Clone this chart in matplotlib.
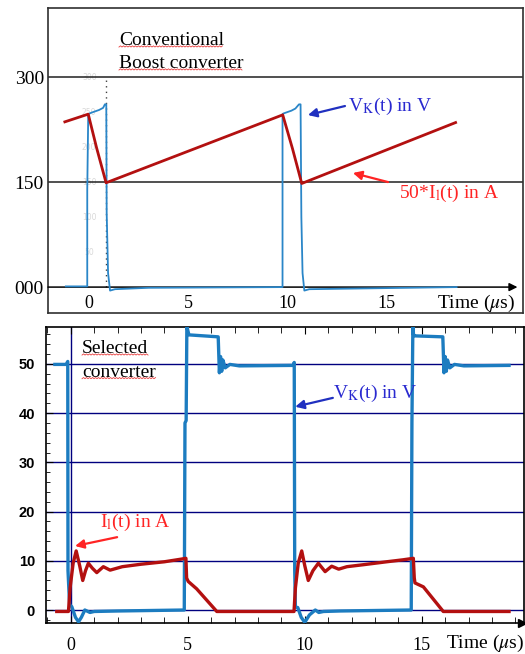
import numpy as np
import matplotlib.pyplot as plt
from matplotlib.lines import Line2D

plt.rcParams['mathtext.fontset'] = 'stix'

# ---------------- data ----------------
# conventional boost converter (top), time in us
topRedT = [-1.23, -0.05, 0.37, 0.85, 9.76, 10.25, 10.72, 18.48]
topRedV = [236, 247, 199, 149, 246, 198, 148, 235]          # 50*I_l(t)

topBlueT = [-1.18, -0.1, -0.1, -0.05, 0.1, 0.3, 0.5, 0.7, 0.79, 0.86, 0.88, 0.95,
            1.05, 1.3, 3.0, 9.75, 9.75, 9.8, 10.0, 10.2, 10.4, 10.58, 10.66, 10.7,
            10.76, 10.85, 11.1, 18.53]
topBlueV = [1, 1, 139, 247, 249, 251, 253, 256, 261, 261, 106, 20,
            -5, -3, -1, 0, 247, 248, 250, 252, 255, 261, 261, 100,
            20, -5, -3, 0]                                   # V_K(t)

topYTicks = [0, 150, 300]
topYLabels = ['000', '150', '300']
topXTicks = [0, 5, 10, 15]
scopeTicks = [50, 100, 150, 200, 250, 300]

# selected converter (bottom)
botBlueT = [-0.68, -0.2, -0.13, -0.12, -0.05, 0.04, 0.2, 0.33, 0.45, 0.6, 0.82, 1.0,
            2.0, 4.85, 4.88, 4.93, 4.96, 5.05, 6.3, 6.35, 6.4, 6.45, 6.5, 6.6,
            6.8, 7.2, 9.5, 9.55, 9.57, 9.6, 9.7, 9.85, 10.0, 10.2, 10.45, 10.6,
            10.8, 11.5, 14.55, 14.58, 14.62, 14.65, 14.7, 15.9, 15.95, 16.0, 16.05, 16.1,
            16.2, 16.4, 16.8, 18.73]
botBlueV = [49.9, 49.9, 50.5, 8, 1, 0.7, -1.5, -2.4, -1.5, 0, -0.5, -0.3,
            -0.2, 0, 38, 38.5, 57.5, 55.9, 55.5, 48.2, 51.5, 48.5, 50.8, 49.2,
            49.9, 49.6, 49.7, 50.3, 8, 0.6, 0.5, -1.5, -2.5, -1.0, 0, -0.5,
            -0.3, -0.2, 0, 38, 57.5, 55.9, 55.7, 55.5, 48.2, 51.5, 48.5, 50.8,
            49.2, 49.9, 49.6, 49.7]

botRedT = [-0.6, -0.1, -0.03, 0.1, 0.23, 0.38, 0.51, 0.63, 0.75, 0.92, 1.11, 1.39,
           1.68, 2.2, 3.0, 4.0, 4.67, 4.92, 4.95, 5.02, 5.38, 6.24, 9.54, 9.6,
           9.72, 9.87, 10.0, 10.15, 10.35, 10.58, 10.87, 11.15, 11.45, 11.8, 12.5, 13.5,
           14.2, 14.64, 14.68, 14.71, 15.07, 15.92, 18.73]
botRedV = [-0.3, -0.3, 4.5, 9.5, 12.0, 9.0, 6.0, 8.0, 9.5, 8.5, 7.6, 8.8,
           8.1, 8.8, 9.3, 9.8, 10.3, 10.5, 6.5, 5.8, 4.3, -0.3, -0.3, 4.5,
           9.5, 12.0, 9.0, 6.0, 8.0, 9.5, 7.8, 8.9, 8.3, 8.8, 9.2, 9.8,
           10.2, 10.5, 6.5, 5.5, 4.7, -0.3, -0.3]

botYTicks = [0, 10, 20, 30, 40, 50]
botXTicks = [0, 5, 10, 15]

# ---------------- style ----------------
serif = 'Liberation Serif'
blueTop = '#2a86c8'
blueBot = '#1c7cc0'
redLine = '#b31010'
navy = '#00007f'
textBlue = '#2a2ad0'
textRed = '#ff2424'


def squiggle(fig, txt, renderer):
    bb = txt.get_window_extent(renderer)
    xs = np.arange(bb.x0, bb.x1, 1.5)
    ys = bb.y0 + 2.0 + 1.2 * (np.arange(len(xs)) % 2)
    pts = fig.transFigure.inverted().transform(np.column_stack([xs, ys]))
    fig.add_artist(Line2D(pts[:, 0], pts[:, 1], color = '#e84040', lw = 0.6))


def arrow(ax, head, tail, color):
    ax.annotate('', xy = head, xytext = tail,
                arrowprops = dict(arrowstyle = '-|>', color = color, lw = 1.6,
                                  mutation_scale = 13, shrinkA = 0, shrinkB = 0))


fig = plt.figure(figsize = (5.25, 6.54), dpi = 100)

# ---------------- top panel ----------------
ax1 = fig.add_axes([48 / 525, 1 - 313 / 654, 475 / 525, 305 / 654])
ax1.set_xlim(-2.08, 21.88)
ax1.set_ylim(-37, 398.6)
for s in ax1.spines.values():
    s.set_color('#303030')
    s.set_linewidth(1.2)
ax1.set_xticks([])
ax1.set_yticks(topYTicks)
ax1.set_yticklabels(topYLabels, family = serif, fontsize = 14)
ax1.tick_params(axis = 'y', length = 0, pad = 3)

for v in topYTicks[1:]:
    ax1.axhline(v, color = '#202020', lw = 1.1, zorder = 1)
ax1.annotate('', xy = (21.6, 0), xytext = (-2.08, 0),
             arrowprops = dict(arrowstyle = '-|>', color = 'black', lw = 1.1,
                               mutation_scale = 12, shrinkA = 0, shrinkB = 0))

# faint oscilloscope scale
for v in scopeTicks:
    ax1.text(0, v, str(v), color = '#d8d8d8', fontsize = 5.5, ha = 'center', va = 'center', zorder = 0)
ax1.vlines(0.85, 0, 300, colors = '#404040', linestyles = (0, (1, 3)), lw = 1.0, zorder = 1)

ax1.plot(topBlueT, topBlueV, color = blueTop, lw = 1.3, zorder = 3)
ax1.plot(topRedT, topRedV, color = redLine, lw = 2.0, zorder = 4)

for t in topXTicks:
    ax1.text(t, -23, str(t), family = serif, fontsize = 13, ha = 'center', va = 'center')
ax1.text(21.5, -23, 'Time ($\\mu$s)', family = serif, fontsize = 14, ha = 'right', va = 'center')

conv1 = ax1.text(1.5, 345.7, 'Conventional', family = serif, fontsize = 14, va = 'baseline')
conv2 = ax1.text(1.5, 312.9, 'Boost converter', family = serif, fontsize = 14, va = 'baseline')

ax1.text(13.05, 258, 'V$_\\mathrm{K}$(t) in V', family = serif, fontsize = 14,
         color = textBlue, ha = 'left', va = 'center')
arrow(ax1, (11.03, 245.7), (12.9, 258.6), '#2030c0')
ax1.text(15.6, 134, '50*I$_\\mathrm{l}$(t) in A', family = serif, fontsize = 14,
         color = textRed, ha = 'left', va = 'center')
arrow(ax1, (13.3, 163), (15.07, 150), textRed)

# ---------------- bottom panel ----------------
ax2 = fig.add_axes([46 / 525, 1 - 623 / 654, 478 / 525, 296 / 654])
ax2.set_xlim(-1.06, 19.37)
ax2.set_ylim(-2.64, 57.5)
for s in ax2.spines.values():
    s.set_color('black')
    s.set_linewidth(1.2)
ax2.set_yticks(botYTicks)
ax2.set_yticklabels([str(v) for v in botYTicks], family = 'Liberation Sans',
                    fontweight = 'bold', fontsize = 10.5)
ax2.set_yticks(np.arange(-2, 58, 2), minor = True)
ax2.set_xticks(botXTicks)
ax2.set_xticklabels([str(v) for v in botXTicks], family = serif, fontsize = 13)
ax2.set_xticks(np.arange(-1, 20, 1), minor = True)
ax2.tick_params(axis = 'both', which = 'both', direction = 'in', top = True, right = False)
ax2.tick_params(axis = 'y', which = 'major', length = 5, pad = 8)
ax2.tick_params(axis = 'y', which = 'minor', length = 3)
ax2.tick_params(axis = 'x', which = 'major', length = 5, pad = 10)
ax2.tick_params(axis = 'x', which = 'minor', length = 4)
ax2.plot(0.995, 0, '>', color = 'black', ms = 6, transform = ax2.transAxes, clip_on = False)

for v in botYTicks:
    ax2.axhline(v, color = navy, lw = 1.0, zorder = 1)
ax2.axvline(0, color = navy, lw = 1.0, zorder = 1)

ax2.plot(botBlueT, botBlueV, color = blueBot, lw = 2.4, zorder = 3)
ax2.plot(botRedT, botRedV, color = redLine, lw = 2.4, zorder = 4)

ax2.text(1.0, -0.07, 'Time ($\\mu$s)', family = serif, fontsize = 14, ha = 'right', va = 'center',
         transform = ax2.transAxes)

sel1 = ax2.text(0.48, 52.2, 'Selected', family = serif, fontsize = 14, va = 'baseline')
sel2 = ax2.text(0.48, 47.4, 'converter', family = serif, fontsize = 14, va = 'baseline')

ax2.text(11.2, 44.1, 'V$_\\mathrm{K}$(t) in V', family = serif, fontsize = 14,
         color = textBlue, ha = 'left', va = 'center')
arrow(ax2, (9.59, 41.3), (11.2, 43.1), '#2030c0')
ax2.text(1.25, 17.7, 'I$_\\mathrm{l}$(t) in A', family = serif, fontsize = 14,
         color = textRed, ha = 'left', va = 'center')
arrow(ax2, (0.18, 13.0), (1.98, 14.8), textRed)

fig.canvas.draw()
renderer = fig.canvas.get_renderer()
for txt in [conv1, conv2, sel1, sel2]:
    squiggle(fig, txt, renderer)

fig.savefig('out.png', dpi = 100)
